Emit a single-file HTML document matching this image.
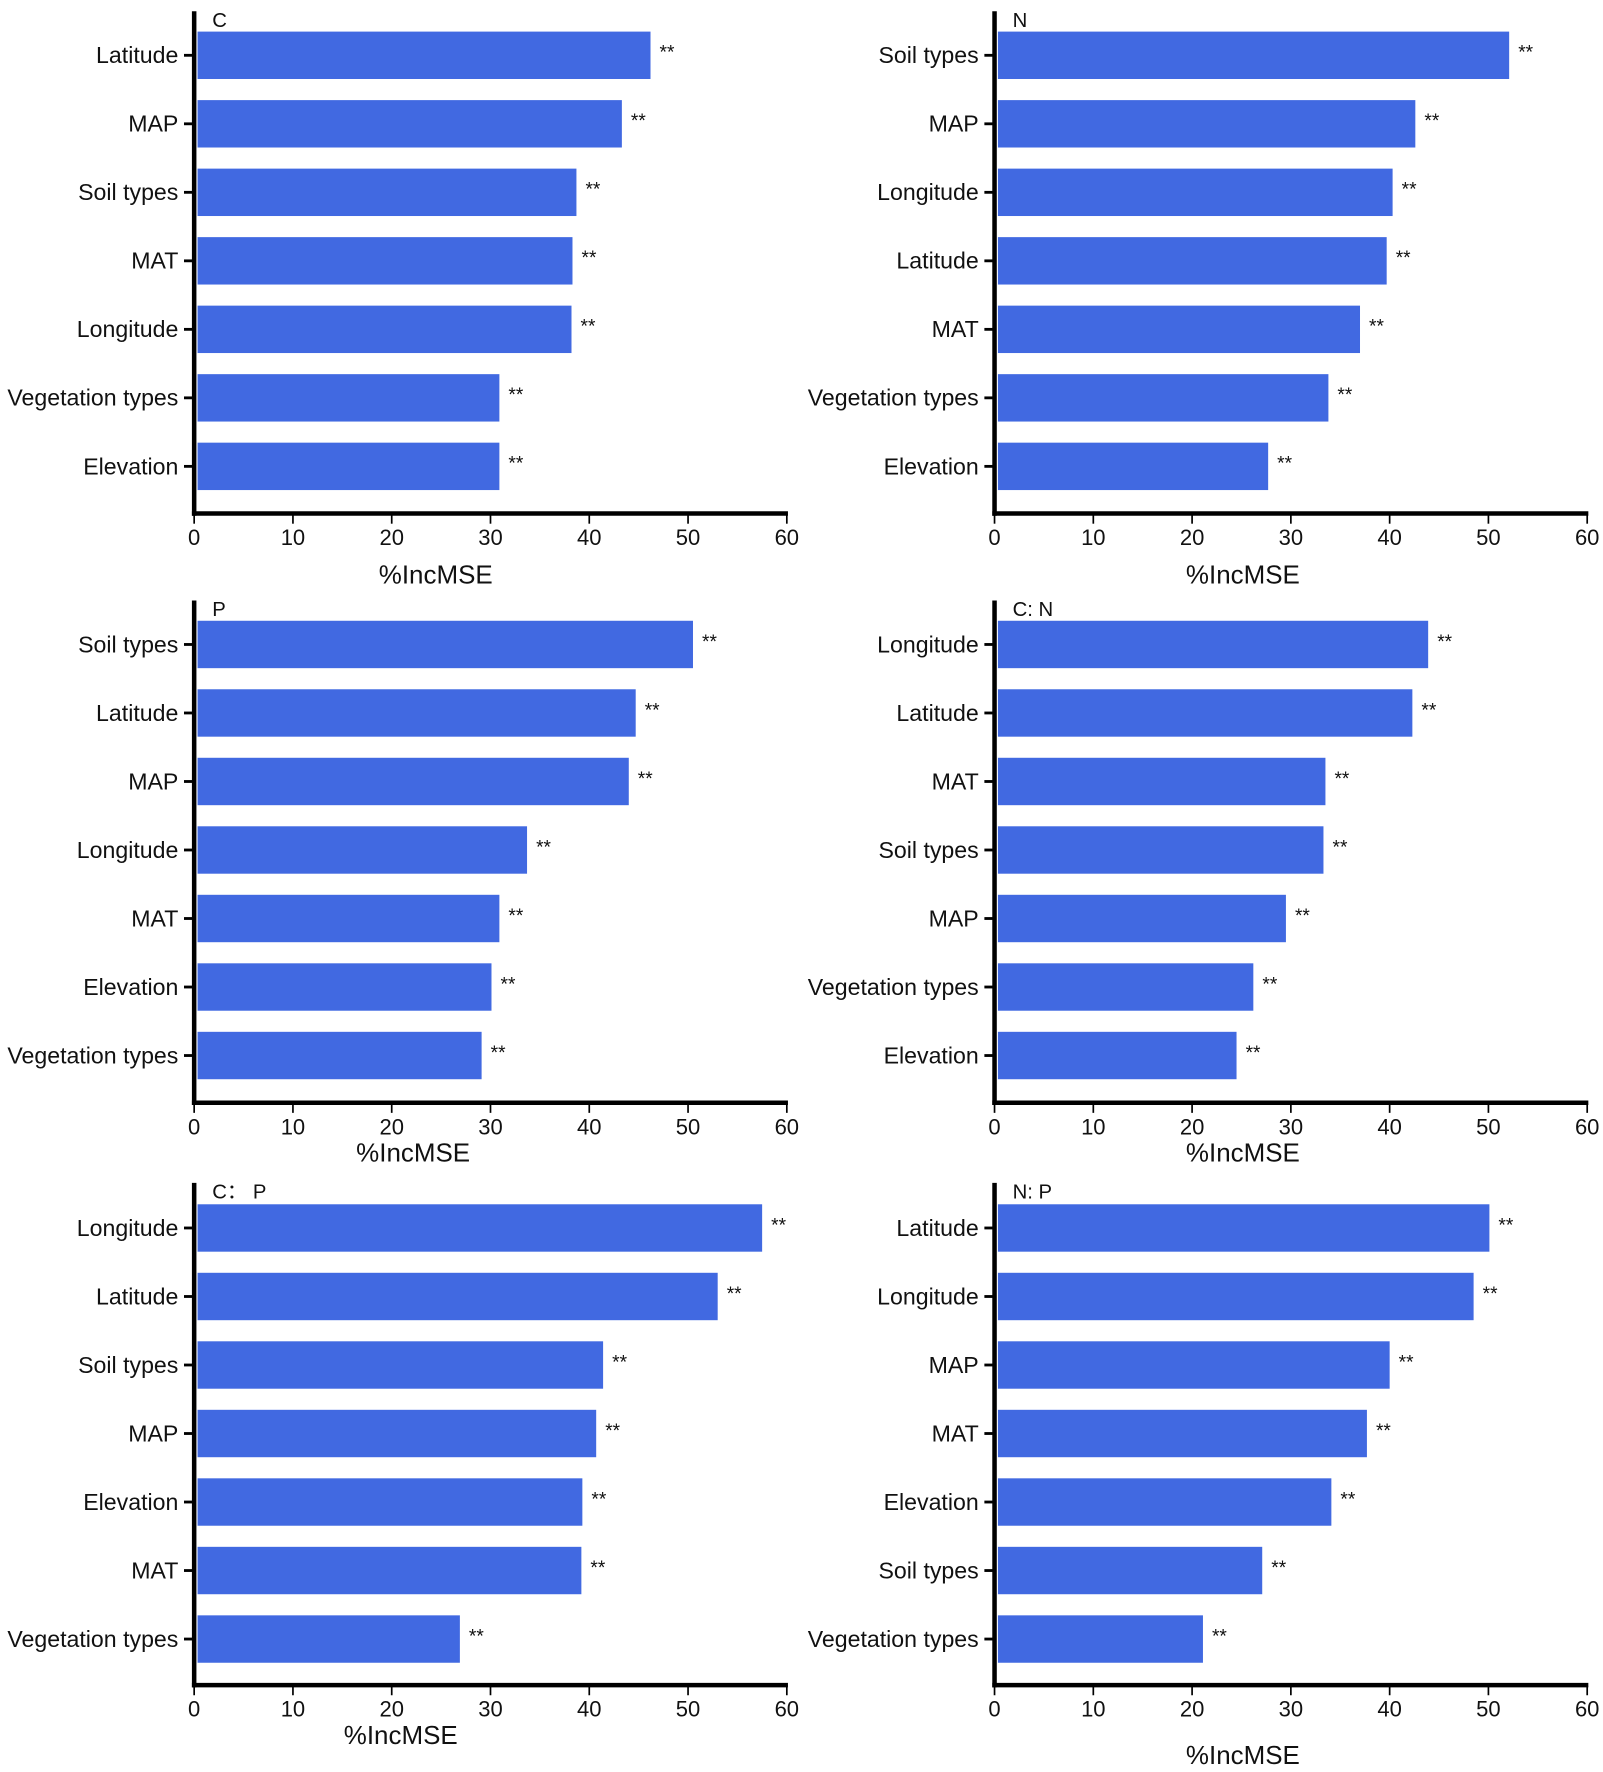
<!DOCTYPE html>
<html><head><meta charset="utf-8"><style>
html,body{margin:0;padding:0;background:#fff}
svg{display:block}
text{font-family:"Liberation Sans",Arial,sans-serif;fill:#111}
</style></head><body>
<svg id="fig" width="1603" height="1772" viewBox="0 0 1420 1570" preserveAspectRatio="none" xmlns="http://www.w3.org/2000/svg"></svg>
<script>
const titles = ["C","N","P","C: N","C： P","N: P"];
const catsC = ["Latitude","MAP","Soil types","MAT","Longitude","Vegetation types","Elevation"];
const valsC = [46.2,43.3,38.7,38.3,38.2,30.9,30.9];
const catsN = ["Soil types","MAP","Longitude","Latitude","MAT","Vegetation types","Elevation"];
const valsN = [52.1,42.6,40.3,39.7,37.0,33.8,27.7];
const catsP = ["Soil types","Latitude","MAP","Longitude","MAT","Elevation","Vegetation types"];
const valsP = [50.5,44.7,44.0,33.7,30.9,30.1,29.1];
const catsCN = ["Longitude","Latitude","MAT","Soil types","MAP","Vegetation types","Elevation"];
const valsCN = [43.9,42.3,33.5,33.3,29.5,26.2,24.5];
const catsCP = ["Longitude","Latitude","Soil types","MAP","Elevation","MAT","Vegetation types"];
const valsCP = [57.5,53.0,41.4,40.7,39.3,39.2,26.9];
const catsNP = ["Latitude","Longitude","MAP","MAT","Elevation","Soil types","Vegetation types"];
const valsNP = [50.1,48.5,40.0,37.7,34.1,27.1,21.1];
const ticks = [0,10,20,30,40,50,60];
const sig = ["**","**","**","**","**","**","**"];

const svg = document.getElementById('fig');
const NS = "http://www.w3.org/2000/svg";
function mk(tag, attrs, txt){
  const e = document.createElementNS(NS, tag);
  for (const k in attrs) e.setAttribute(k, attrs[k]);
  if (txt !== undefined) e.textContent = txt;
  svg.appendChild(e);
  return e;
}
const panels = [
  {cats:catsC, vals:valsC, ax:172, top:10, first:49, xaxis:455, xlab:[386,509]},
  {cats:catsN, vals:valsN, ax:881, top:10, first:49, xaxis:455, xlab:[1101,509]},
  {cats:catsP, vals:valsP, ax:172, top:532, first:571, xaxis:977, xlab:[366,1021]},
  {cats:catsCN, vals:valsCN, ax:881, top:532, first:571, xaxis:977, xlab:[1101,1021]},
  {cats:catsCP, vals:valsCP, ax:172, top:1048, first:1088, xaxis:1493, xlab:[355,1537]},
  {cats:catsNP, vals:valsNP, ax:881, top:1048, first:1088, xaxis:1493, xlab:[1101,1555]}
];
const step = 60.7, bh = 42, scale = 8.75;
panels.forEach((p, pi) => {
  const xs = v => p.ax + v * scale;
  p.cats.forEach((c, i) => {
    const cy = p.first + i * step;
    const b = mk('rect', {x: p.ax + 3, y: cy - bh/2, width: xs(p.vals[i]) - p.ax - 3, height: bh, fill: '#4169E1'});
    
    
    const s = mk('text', {x: xs(p.vals[i]) + 8, y: cy + 3, 'font-size': 17}, sig[i]);
    
    
    const l = mk('text', {x: p.ax - 14, y: cy + 7, 'font-size': 20.5, 'text-anchor': 'end'}, c);
    
    
    const t = mk('line', {x1: p.ax - 9, x2: p.ax, y1: cy, y2: cy, stroke: '#000', 'stroke-width': 2.5});
    
    
  });
  const ya = mk('line', {x1: p.ax, x2: p.ax, y1: p.top, y2: p.xaxis + 2, stroke: '#000', 'stroke-width': 4});
  
  
  const xa = mk('line', {x1: p.ax - 2, x2: xs(60) + 1, y1: p.xaxis, y2: p.xaxis, stroke: '#000', 'stroke-width': 4});
  
  
  ticks.forEach(tv => {
    const tk = mk('line', {x1: xs(tv), x2: xs(tv), y1: p.xaxis, y2: p.xaxis + 9, stroke: '#000', 'stroke-width': 1.5});
    
    
    const tl = mk('text', {x: xs(tv), y: p.xaxis + 28, 'font-size': 19.5, 'text-anchor': 'middle'}, String(tv));
    
    
  });
  const xt = mk('text', {x: p.xlab[0], y: p.xlab[1] + 8, 'font-size': 23, 'text-anchor': 'middle'}, '%IncMSE');
  
  
  const pt = mk('text', {x: p.ax + 16, y: p.top + 14, 'font-size': 18}, titles[pi]);
  
  
});
</script>
</body></html>
